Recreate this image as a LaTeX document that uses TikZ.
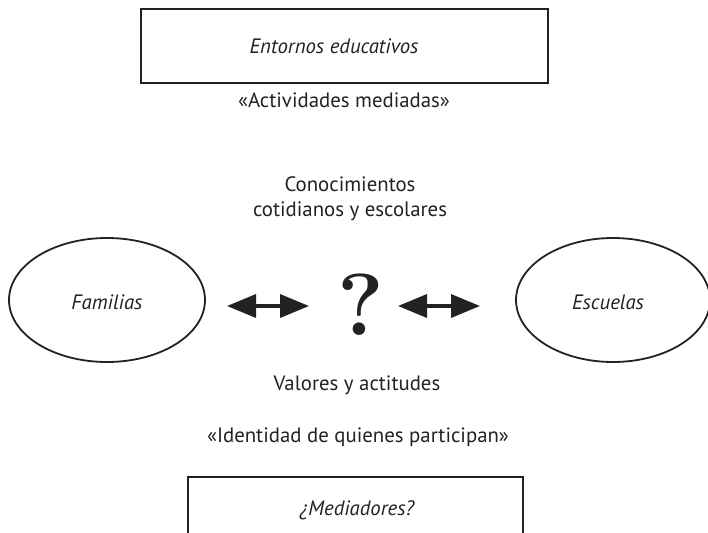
\documentclass[tikz,border=0pt]{standalone}
\usepackage{fontspec}
\newfontfamily\ptsans{PT Sans}
\usetikzlibrary{shapes.geometric,arrows.meta}
\definecolor{ink}{HTML}{222222}
\tikzset{
  txt/.style={text=ink, font=\ptsans\fontsize{20.8}{25}\selectfont, align=center, inner sep=0pt},
  itxt/.style={txt, font=\ptsans\fontsize{20.8}{25}\selectfont\itshape},
  boxframe/.style={draw=ink, line width=1.3pt, inner sep=0pt},
  ovalframe/.style={ellipse, draw=ink, line width=1.8pt, inner sep=0pt},
  dblarrow/.style={line width=3.5pt, ink, {Triangle[length=29pt,width=23pt]}-{Triangle[length=29pt,width=23pt]}}
}
\begin{document}
\begin{tikzpicture}[x=1pt,y=-1pt]
\useasboundingbox (0,0) rectangle (708,532);
\node[boxframe, minimum width=407pt, minimum height=74pt] (top) at (344.5,46) {};
\node[itxt] (entornos) at (334,46) {Entornos educativos};
\node[txt] (activ) at (344,100) {«Actividades mediadas»};
\node[txt] (conoc) at (350,199) {Conocimientos\\cotidianos y escolares};
\node[ovalframe, minimum width=196pt, minimum height=124pt] (fam) at (107,300) {};
\node[itxt] (famtxt) at (107,302) {Familias};
\node[ovalframe, minimum width=194pt, minimum height=124pt] (esc) at (613,300) {};
\node[itxt] (esctxt) at (608,302) {Escuelas};
\node[text=ink, inner sep=0pt, font=\fontsize{88}{88}\selectfont\rmfamily\bfseries] (q) at (361,305) {?};
\coordinate (a1) at (227,306);
\coordinate (a2) at (309,306);
\coordinate (b1) at (398,306);
\coordinate (b2) at (480,306);
\draw[dblarrow] (a1) -- (a2);
\draw[dblarrow] (b1) -- (b2);
\node[txt] (valores) at (357,385) {Valores y actitudes};
\node[txt] (ident) at (358,437) {«Identidad de quienes participan»};
\node[boxframe, minimum width=335pt, minimum height=66pt] (bot) at (355.5,510) {};
\node[itxt] (medi) at (357,510) {¿Mediadores?};
\end{tikzpicture}
\end{document}
